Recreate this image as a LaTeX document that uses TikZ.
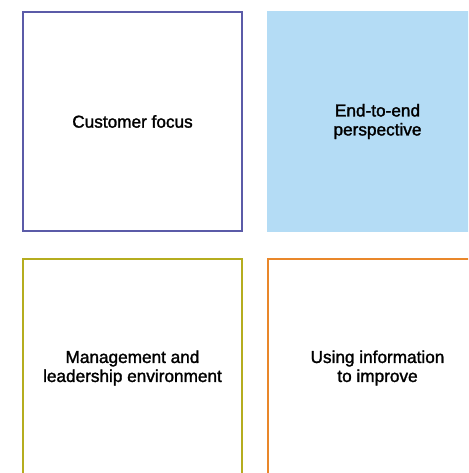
\documentclass[tikz,border=0pt]{standalone}
\usepackage{fontspec}
\setmainfont{Liberation Sans}[FakeBold=1.6]
\usepackage{xcolor}
\usepackage{tikz}
\usetikzlibrary{positioning}

\definecolor{focusblue}{HTML}{5B5BA8}
\definecolor{paleblue}{HTML}{B4DCF5}
\definecolor{olive}{HTML}{B5AD1F}
\definecolor{orange}{HTML}{E9872A}

\begin{document}
\begin{tikzpicture}[x=1pt, y=-1pt,
    box/.style={rectangle, minimum width=219pt, minimum height=219pt, align=center, line width=2pt,
        font=\fontsize{17.2}{19}\selectfont, inner sep=0pt}
]
    \clip (0,0) rectangle (468,473);

    % The four quadrants
    \node[box, draw=focusblue] (focus) at (132.5,121.5) {Customer focus};
    \node[box, fill=paleblue, minimum width=221pt, minimum height=221pt] (endtoend) at (377.5,121.5) {End-to-end\\perspective};
    \node[box, draw=olive] (leadership) at (132.5,368) {Management and\\leadership environment};
    \node[box, draw=orange] (information) at (377.5,368) {Using information\\to improve};
\end{tikzpicture}
\end{document}
